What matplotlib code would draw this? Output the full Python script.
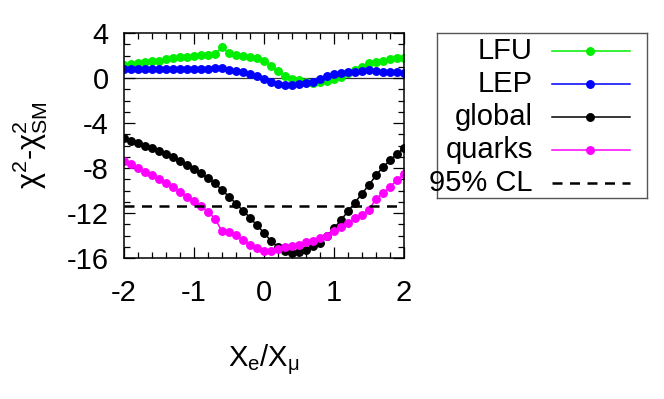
import numpy as np
import matplotlib
matplotlib.use("Agg")
from matplotlib import pyplot as plt
from matplotlib.ticker import MultipleLocator

plt.rcParams['font.family'] = ['Liberation Sans', 'DejaVu Sans']
plt.rcParams['mathtext.fontset'] = 'custom'
plt.rcParams['mathtext.rm'] = 'Liberation Sans'
plt.rcParams['mathtext.it'] = 'Liberation Sans'
plt.rcParams['mathtext.default'] = 'regular'

# X_e/X_mu scan, step 0.1
x = np.round(np.arange(-2.0, 2.0001, 0.1), 2)

lfu = [1.15, 1.23, 1.30, 1.42, 1.48, 1.54, 1.65, 1.74, 1.83, 1.90,
       1.98, 2.04, 2.08, 2.17, 2.72, 2.19, 2.05, 1.98, 1.88, 1.74,
       1.50, 1.08, 0.58, 0.18, -0.05, -0.22, -0.33, -0.41, -0.39, -0.24,
       -0.12, 0.12, 0.41, 0.71, 1.01, 1.30, 1.42, 1.54, 1.69, 1.75, 1.81]

lep = [0.80, 0.80, 0.80, 0.80, 0.80, 0.80, 0.80, 0.80, 0.80, 0.80,
       0.80, 0.80, 0.81, 0.86, 0.92, 0.71, 0.62, 0.50, 0.36, 0.19,
       -0.09, -0.38, -0.56, -0.66, -0.65, -0.53, -0.46, -0.33, -0.12, 0.18,
       0.33, 0.44, 0.50, 0.56, 0.62, 0.71, 0.59, 0.56, 0.53, 0.50, 0.44]

glob = [-5.36, -5.63, -5.81, -6.01, -6.25, -6.49, -6.76, -7.02, -7.36, -7.70,
        -8.06, -8.47, -8.92, -9.36, -9.96, -10.55, -11.17, -11.80, -12.41, -13.10,
        -13.76, -14.49, -15.03, -15.37, -15.56, -15.47, -15.27, -14.96, -14.64, -14.00,
        -13.37, -12.62, -11.85, -11.07, -10.27, -9.51, -8.65, -7.92, -7.32, -6.76, -6.19]

quarks = [-7.40, -7.67, -7.98, -8.38, -8.62, -9.00, -9.36, -9.72, -10.13, -10.55,
          -10.96, -11.41, -11.88, -12.50, -13.63, -13.66, -13.96, -14.40, -14.80, -15.15,
          -15.40, -15.35, -15.20, -15.03, -14.95, -14.82, -14.62, -14.45, -14.22, -14.00,
          -13.60, -13.28, -12.92, -12.47, -12.15, -11.70, -10.73, -10.25, -9.66, -9.11, -8.55]

cl95 = -11.35

labels = ['LFU', 'LEP', 'global', 'quarks', '95% CL']
colors = ['#00ee00', '#0000ff', '#000000', '#ff00ff', '#000000']
series = [lfu, lep, glob, quarks]

fig = plt.figure(figsize=(6.64, 3.99), dpi=100)
ax = fig.add_axes([124/664, 1 - 258/399, 280/664, 225/399])

ax.axhline(0, color='#333333', lw=0.9, zorder=1)
for y, c in zip(series, colors):
    ax.plot(x, y, color=c, lw=1.1, marker='o', ms=5.4, zorder=2)
ax.axhline(cl95, color='black', lw=1.8, ls=(0, (4, 3)), zorder=3)

ax.set_xlim(-2, 2)
ax.set_ylim(-16, 4)
ax.xaxis.set_major_locator(MultipleLocator(1))
ax.xaxis.set_minor_locator(MultipleLocator(0.2))
ax.yaxis.set_major_locator(MultipleLocator(4))
ax.yaxis.set_minor_locator(MultipleLocator(1))
ax.xaxis.set_major_formatter(plt.FuncFormatter(lambda v, p: '%d' % v))
ax.yaxis.set_major_formatter(plt.FuncFormatter(lambda v, p: '%d' % v))
ax.tick_params(which='both', direction='in', top=True, right=True, width=0.9, colors='black')
ax.tick_params(which='major', length=8, labelsize=21)
ax.tick_params(which='minor', length=4.5)
ax.tick_params(axis='x', which='major', pad=15)
ax.tick_params(axis='y', which='major', pad=11)
for s in ax.spines.values():
    s.set_linewidth(1.1)

ax.set_ylabel(r'$χ^2$-$χ^2_{SM}$', fontsize=22)
ax.yaxis.set_label_coords(-0.265, 0.5)
ax.set_xlabel(r'$X_e/X_μ$', fontsize=21, va='top')
ax.xaxis.set_label_coords(0.5, -0.375)

# key box
lg = fig.add_axes([437/664, 1 - 198/399, 210/664, 165/399])
lg.set_xlim(0, 1)
lg.set_ylim(0, 1)
lg.set_xticks([])
lg.set_yticks([])
for s in lg.spines.values():
    s.set_color('#555555')
    s.set_linewidth(1.0)
rows = np.linspace(0.893, 0.093, len(labels))
for i, (lab, c, ry) in enumerate(zip(labels, colors, rows)):
    lg.text(0.457, ry, lab, ha='right', va='center', fontsize=21)
    if i < 4:
        lg.plot([0.548, 0.919], [ry, ry], color=c, lw=1.1)
        lg.plot([0.729], [ry], color=c, marker='o', ms=5.4)
    else:
        lg.plot([0.548, 0.919], [ry, ry], color=c, lw=1.8, ls=(0, (4, 3)))

fig.savefig('out.png', dpi=100)
